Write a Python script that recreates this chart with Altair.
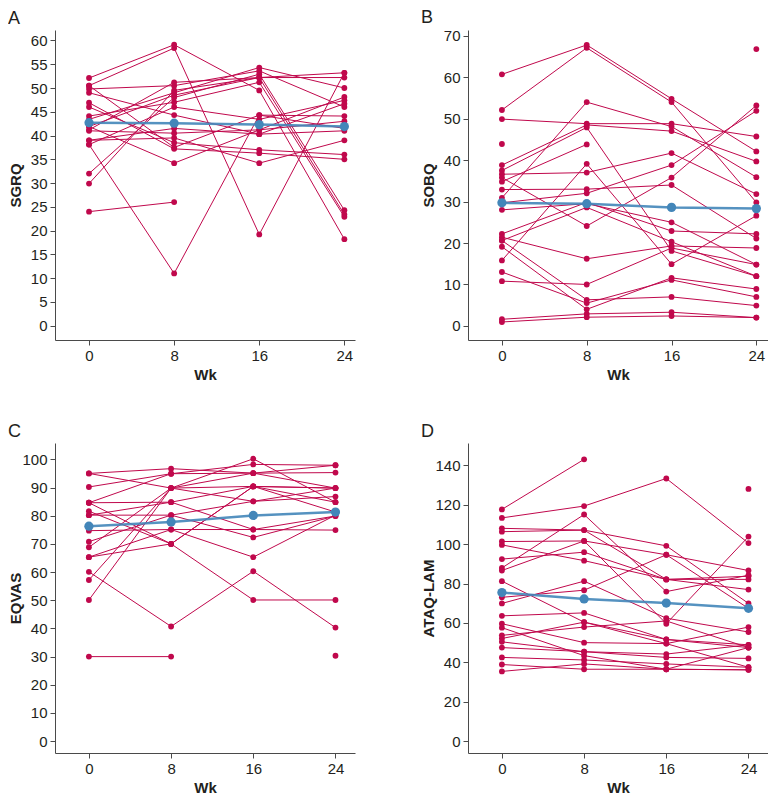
import altair as alt
import pandas as pd

WEEKS = [0, 8, 16, 24]
RED = "#c0084c"
BLUE = "#4386b9"

# ---- Panel A: SGRQ (per-subject values at weeks 0, 8, 16, 24) ----
SGRQ = [
    [24.0, 26.0, None, None],
    [38.1, 11.0, 44.3, 44.1],
    [50.5, 58.4, 19.2, 53.2],
    [52.1, 59.1, 49.5, 18.2],
    [32.0, 48.0, 52.9, 24.3],
    [29.9, 49.5, 52.2, 23.4],
    [49.8, 50.5, 53.6, 46.0],
    [49.0, 44.3, 40.3, 41.0],
    [46.9, 37.2, 36.3, 35.0],
    [46.0, 38.5, 37.0, 36.0],
    [44.1, 47.0, 51.2, 22.9],
    [43.4, 49.0, 54.3, 50.0],
    [41.9, 34.2, 41.2, 48.1],
    [41.0, 40.5, 41.2, 43.0],
    [39.0, 39.5, 34.2, 39.0],
    [41.2, 51.2, 52.2, 52.2],
    [38.1, 46.0, 43.4, 47.4],
    [39.0, 41.5, 40.3, 46.7],
    [50.5, 37.5, 44.3, 41.5],
    [41.9, 48.5, 52.2, 53.2],
]
SGRQ_MEAN = [42.7, 42.6, 42.3, 41.9]

# ---- Panel B: SOBQ ----
SOBQ = [
    [60.7, 67.8, 54.8, 42.1],
    [52.1, 67.1, 54.0, 29.8],
    [49.9, 48.8, 48.8, 45.7],
    [43.9, None, None, None],
    [None, None, None, 66.8],
    [38.8, 48.5, 47.0, 39.7],
    [37.5, 47.9, 18.1, 12.0],
    [30.9, 54.0, 48.1, 35.9],
    [34.8, 43.8, None, None],
    [36.6, 37.0, 41.7, 31.8],
    [35.8, 24.1, 35.8, 53.2],
    [32.9, 33.0, 34.0, 21.1],
    [29.7, 32.0, 38.8, 51.9],
    [28.0, 29.5, 25.0, 14.8],
    [22.2, 29.8, 22.9, 22.2],
    [21.4, 16.2, 19.3, 18.8],
    [20.6, 28.6, 20.3, 12.0],
    [19.1, 4.0, 11.6, 8.9],
    [15.8, 39.1, 14.9, 26.6],
    [13.0, 5.5, 11.1, 7.0],
    [10.8, 10.0, 18.8, 14.8],
    [20.6, 6.3, 7.0, 4.9],
    [1.6, 2.9, 3.3, 2.0],
    [0.95, 2.1, 2.4, 2.0],
]
SOBQ_MEAN = [29.7, 29.5, 28.6, 28.3]

# ---- Panel C: EQVAS ----
EQVAS = [
    [30.0, 30.0, None, None],
    [None, None, None, 30.3],
    [60.1, 40.7, 60.3, 40.3],
    [84.6, 70.0, 50.1, 50.1],
    [50.1, 89.8, 95.1, 89.8],
    [57.2, 89.8, 100.2, 84.8],
    [95.0, 96.7, 95.1, 95.3],
    [95.0, 89.8, 85.1, 86.8],
    [90.2, 94.9, 98.2, 97.9],
    [84.6, 84.8, 75.1, 79.9],
    [81.6, 70.0, 90.4, 89.8],
    [80.2, 84.8, 90.4, 81.3],
    [74.7, 75.1, 75.1, 74.9],
    [70.8, 80.2, 72.3, 79.9],
    [68.8, 89.8, 90.4, 89.8],
    [65.3, 75.1, 65.3, 80.2],
    [65.3, 70.0, 90.4, 84.8],
    [80.2, 80.2, 85.1, 89.8],
    [84.6, 94.9, 95.1, 97.9],
]
EQVAS_MEAN = [76.3, 77.8, 80.1, 81.3]

# ---- Panel D: ATAQ-LAM ----
ATAQ = [
    [117.6, 143.0, None, None],
    [113.3, 119.3, 133.3, 100.5],
    [None, None, None, 128.0],
    [108.0, 107.1, 99.1, 69.9],
    [106.3, 107.1, 82.1, 82.1],
    [101.3, 101.6, 94.6, 86.6],
    [99.6, 91.6, 82.1, 76.9],
    [92.4, 95.9, 82.1, 83.7],
    [87.9, 115.0, 75.9, 84.2],
    [86.6, 101.6, 59.6, 103.8],
    [81.2, 60.4, 51.6, 47.5],
    [73.0, 76.6, 94.6, 67.4],
    [69.9, 81.2, 62.4, 55.4],
    [63.6, 65.1, 51.6, 48.9],
    [59.6, 50.0, 49.5, 57.9],
    [57.6, 43.4, 36.5, 36.2],
    [53.7, 57.9, 61.0, 47.5],
    [52.1, 60.4, 49.5, 37.5],
    [50.4, 45.4, 44.2, 48.9],
    [47.5, 45.4, 42.5, 42.0],
    [42.5, 41.2, 39.2, 37.5],
    [38.9, 36.5, 36.5, 36.2],
    [35.4, 39.2, 36.5, 47.5],
]
ATAQ_MEAN = [75.4, 72.2, 70.1, 67.4]

W, H = 300, 310


def panel(subjects, mean, letter, ytitle, ydomain, yticks, xdomain):
    seg_rows, pt_rows = [], []
    for i, s in enumerate(subjects):
        for j, w in enumerate(WEEKS):
            if s[j] is not None:
                pt_rows.append({"wk": w, "v": s[j]})
            if j < 3 and s[j] is not None and s[j + 1] is not None:
                sid = f"{i}-{j}"
                seg_rows.append({"wk": w, "v": s[j], "seg": sid})
                seg_rows.append({"wk": WEEKS[j + 1], "v": s[j + 1], "seg": sid})
    seg_df = pd.DataFrame(seg_rows)
    pt_df = pd.DataFrame(pt_rows)
    mean_df = pd.DataFrame({"wk": WEEKS, "v": mean})

    x = alt.X("wk:Q", scale=alt.Scale(domain=xdomain, nice=False, zero=False),
              axis=alt.Axis(values=WEEKS, title="Wk"))
    y = alt.Y("v:Q", scale=alt.Scale(domain=ydomain, nice=False, zero=False),
              axis=alt.Axis(values=yticks, title=ytitle))

    lines = alt.Chart(seg_df).mark_line(color=RED, strokeWidth=1).encode(
        x=x, y=y, detail="seg:N")
    pts = alt.Chart(pt_df).mark_circle(color=RED, size=34, opacity=1).encode(x=x, y=y)
    mline = alt.Chart(mean_df).mark_line(color=BLUE, strokeWidth=2.5, opacity=0.9).encode(x=x, y=y)
    mpts = alt.Chart(mean_df).mark_circle(color=BLUE, size=85, opacity=1).encode(x=x, y=y)

    return alt.layer(lines, pts, mline, mpts).properties(
        width=W, height=H,
        title=alt.TitleParams(letter, anchor="start", frame="bounds", fontSize=18,
                              fontWeight="normal", font="Liberation Sans",
                              color="#231f20", offset=2),
    )


a = panel(SGRQ, SGRQ_MEAN, "A", "SGRQ", [-3, 62.2], list(range(0, 61, 5)), [-3.2, 25])
b = panel(SOBQ, SOBQ_MEAN, "B", "SOBQ", [-3.4, 71.4], list(range(0, 71, 10)), [-3.2, 25.1])
c = panel(EQVAS, EQVAS_MEAN, "C", "EQVAS", [-4.2, 105.8], list(range(0, 101, 10)), [-3.3, 25.9])
d = panel(ATAQ, ATAQ_MEAN, "D", "ATAQ-LAM", [-6, 151.3], list(range(0, 141, 20)), [-3.3, 25.9])

chart = alt.concat(a, b, c, d, columns=2, spacing={"row": 103, "column": 113},
                   bounds="flush").properties(padding=0).configure_view(
    stroke=None
).configure_axis(
    grid=False, labelFont="Liberation Sans", labelFontSize=15, labelColor="#231f20",
    titleFont="Liberation Sans", titleFontSize=15, titleFontWeight="bold",
    titleColor="#231f20", domainColor="#4a4a4a", tickColor="#4a4a4a",
    domainWidth=1, tickWidth=1,
).configure_axisY(
    tickSize=5, labelPadding=3, titleX=-32,
).configure_axisX(
    tickSize=5, labelPadding=3, titlePadding=4,
)

chart.save("out.html", embed_options={"renderer": "svg", "actions": False})
